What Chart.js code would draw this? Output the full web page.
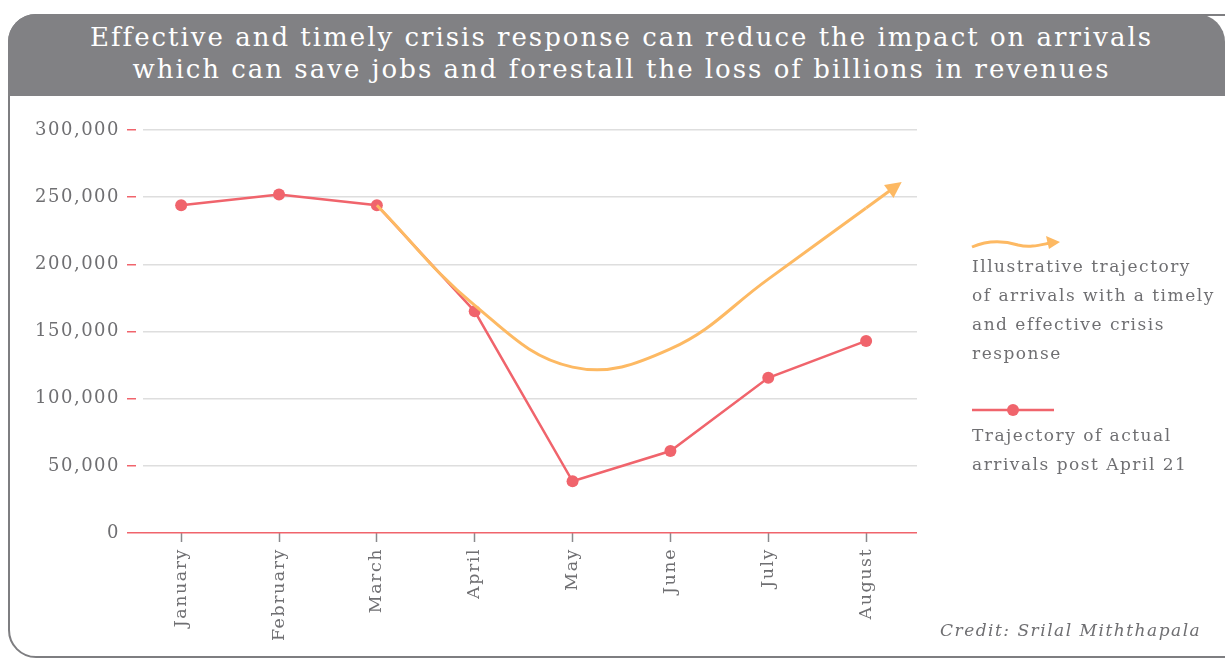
<!DOCTYPE html>
<html>
<head>
<meta charset="utf-8">
<title>Crisis response and arrivals</title>
<script src="https://cdn.jsdelivr.net/npm/chart.js@4.4.0/dist/chart.umd.min.js"></script>
<style>
body { margin:0; width:1225px; height:659px; overflow:hidden; background:#fff; font-family:"DejaVu Serif", serif; }
.frame { position:absolute; left:8px; top:14px; width:1300px; height:644px; box-sizing:border-box; border:2px solid #7e7e81; border-radius:28px; }
.header { position:absolute; left:8px; top:14px; width:1217px; height:82px; box-sizing:border-box; background:#818184; border-radius:28px 28px 0 0; color:#fff; text-align:center; font-size:26px; letter-spacing:2px; line-height:32px; padding-top:7px; padding-left:10px; }
.credit { position:absolute; left:940px; top:620px; font-size:17px; letter-spacing:1.5px; font-style:italic; color:#6f6f72; }
.wrap { position:absolute; left:0; top:0; width:1225px; height:659px; }
</style>
</head>
<body>
<div class="frame"></div>
<div class="header">Effective and timely crisis response can reduce the impact on arrivals<br>which can save jobs and forestall the loss of billions in revenues</div>
<div class="wrap"><canvas id="chart"></canvas></div>
<div class="credit">Credit: Srilal Miththapala</div>
<script>
const months = ['January', 'February', 'March', 'April', 'May', 'June', 'July', 'August'];
const actual = [244000, 252000, 244000, 165000, 38500, 61000, 115500, 143000];
const illustrative = [null, null, 244000, 169500, 123500, 137000, 189000, 242000];
const yTicks = [0, 50000, 100000, 150000, 200000, 250000, 300000];
const legendOrange = ['Illustrative trajectory', 'of arrivals with a timely', 'and effective crisis', 'response'];
const legendRed = ['Trajectory of actual', 'arrivals post April 21'];

const RED = '#f0646c';
const ORANGE = '#fdb963';
const GREY = '#6f6f72';
const FONT = '"DejaVu Serif", serif';
const SPACING = '1.5px';

function toPoints(arr) {
	return arr.map(function(v, i) { return { x: i, y: v }; });
}

// wider lettering like the original slab font, arrow on the orange line, legend on the right
const extras = {
	id: 'extras',
	beforeLayout: function(chart) { chart.ctx.letterSpacing = SPACING; },
	beforeDraw: function(chart) { chart.ctx.letterSpacing = SPACING; },
	afterDatasetsDraw: function(chart) {
		const ctx = chart.ctx;
		const meta = chart.getDatasetMeta(1);
		const pts = meta.data;
		const a = pts[pts.length - 2], b = pts[pts.length - 1];
		const dx = b.x - a.x, dy = b.y - a.y;
		const len = Math.sqrt(dx * dx + dy * dy);
		const ux = dx / len, uy = dy / len;
		const tipX = b.x + ux * 44, tipY = b.y + uy * 44;
		ctx.save();
		ctx.strokeStyle = ORANGE;
		ctx.fillStyle = ORANGE;
		ctx.lineWidth = 3;
		ctx.beginPath();
		ctx.moveTo(b.x, b.y);
		ctx.lineTo(tipX - ux * 8, tipY - uy * 8);
		ctx.stroke();
		ctx.beginPath();
		ctx.moveTo(tipX, tipY);
		ctx.lineTo(tipX - ux * 16 - uy * 8, tipY - uy * 16 + ux * 8);
		ctx.lineTo(tipX - ux * 16 + uy * 8, tipY - uy * 16 - ux * 8);
		ctx.closePath();
		ctx.fill();
		ctx.restore();
	},
	afterDraw: function(chart) {
		const ctx = chart.ctx;
		ctx.save();
		// wavy orange arrow
		ctx.strokeStyle = ORANGE;
		ctx.fillStyle = ORANGE;
		ctx.lineWidth = 3;
		ctx.beginPath();
		ctx.moveTo(972, 247);
		ctx.bezierCurveTo(988, 240, 1002, 240, 1018, 245);
		ctx.bezierCurveTo(1030, 248, 1040, 245, 1050, 243);
		ctx.stroke();
		ctx.beginPath();
		ctx.moveTo(1060, 242);
		ctx.lineTo(1046, 236);
		ctx.lineTo(1049, 249);
		ctx.closePath();
		ctx.fill();
		// red line with dot
		ctx.strokeStyle = RED;
		ctx.fillStyle = RED;
		ctx.lineWidth = 2.5;
		ctx.beginPath();
		ctx.moveTo(972, 410);
		ctx.lineTo(1054, 410);
		ctx.stroke();
		ctx.beginPath();
		ctx.arc(1013, 410, 6, 0, Math.PI * 2);
		ctx.fill();
		// texts
		ctx.fillStyle = GREY;
		ctx.font = '17px ' + FONT;
		ctx.letterSpacing = SPACING;
		ctx.textBaseline = 'middle';
		legendOrange.forEach(function(t, i) { ctx.fillText(t, 972, 268 + i * 29); });
		legendRed.forEach(function(t, i) { ctx.fillText(t, 972, 437 + i * 29); });
		ctx.restore();
	}
};

const ctx = document.getElementById('chart');
const chart = new Chart(ctx, {
	type: 'line',
	data: {
		datasets: [ {
			label: 'Trajectory of actual arrivals post April 21',
			data: toPoints(actual),
			borderColor: RED,
			backgroundColor: RED,
			borderWidth: 2.5,
			pointRadius: 6,
			pointBorderWidth: 0,
			order: 1
		}, {
			label: 'Illustrative trajectory of arrivals with a timely and effective crisis response',
			data: toPoints(illustrative),
			borderColor: ORANGE,
			borderWidth: 3,
			pointRadius: 0,
			tension: 0.4,
			order: 0
		} ]
	},
	options: {
		responsive: true,
		maintainAspectRatio: false,
		animation: false,
		layout: { padding: { left: 0, right: 308, top: 130, bottom: 0 } },
		plugins: { legend: { display: false }, tooltip: { enabled: false } },
		scales: {
			x: {
				type: 'linear',
				min: -0.39,
				max: 7.52,
				afterBuildTicks: function(scale) {
					scale.ticks = months.map(function(m, i) { return { value: i }; });
				},
				afterFit: function(scale) { scale.height = 126; },
				border: { display: false },
				grid: { drawOnChartArea: false, tickColor: '#8a8a8d', tickLength: 9, tickWidth: 1.5 },
				ticks: {
					autoSkip: false,
					maxRotation: 90,
					minRotation: 90,
					padding: 6,
					color: GREY,
					font: { family: FONT, size: 17.5 },
					callback: function(v) { return months[v]; }
				}
			},
			y: {
				min: 0,
				max: 300000,
				afterBuildTicks: function(scale) {
					scale.ticks = yTicks.map(function(v) { return { value: v }; });
				},
				afterFit: function(scale) { scale.width = 143; },
				border: { display: false },
				grid: {
					color: function(c) { return c.tick && c.tick.value === 0 ? RED : '#dedede'; },
					lineWidth: 1.5,
					tickLength: 16,
					tickColor: RED,
					tickBorderDash: function(c) { return c.tick && c.tick.value === 0 ? [] : [9, 7]; }
				},
				ticks: {
					padding: 7,
					color: GREY,
					font: { family: FONT, size: 18 },
					callback: function(v) { return v.toLocaleString('en-US'); }
				}
			}
		}
	},
	plugins: [extras]
});
</script>
</body>
</html>
